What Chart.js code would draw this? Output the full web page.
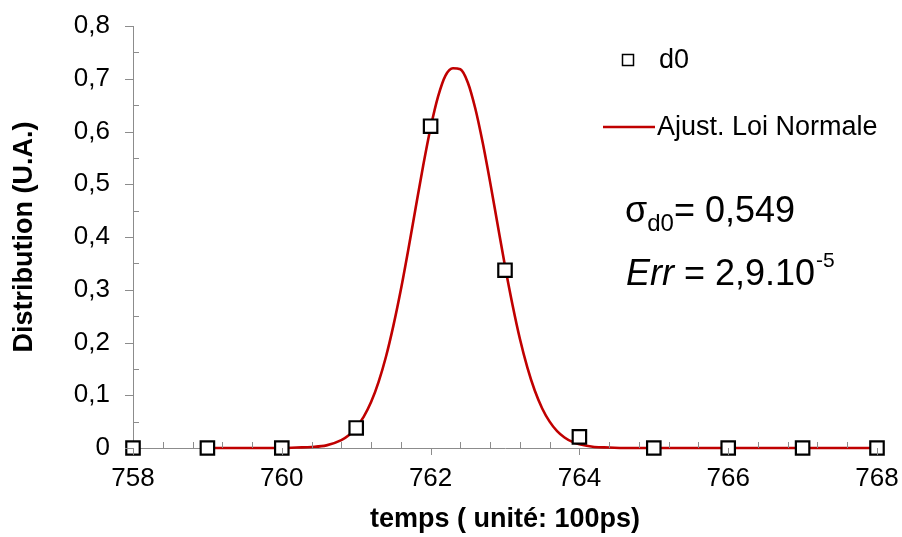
<!DOCTYPE html>
<html><head><meta charset="utf-8">
<script src="https://cdn.jsdelivr.net/npm/chart.js@4.4.1/dist/chart.umd.min.js"></script>
<style>html,body{margin:0;padding:0;background:#fff;}#wrap{width:902px;height:537px;position:relative;}</style>
</head><body><div id="wrap"><canvas id="c"></canvas></div>
<script>
// ---- data ----
const pointX = [758, 759, 760, 761, 762, 763, 764, 765, 766, 767, 768];
const pointY = [0, 0, 0, 0.038, 0.610, 0.337, 0.021, 0, 0, 0, 0];
const curveX = [759, 759.5, 760, 760.2, 760.4, 760.6, 760.8, 760.9, 761, 761.1, 761.2, 761.3, 761.4, 761.5, 761.6, 761.7, 761.8, 761.9, 762, 762.1, 762.2, 762.3, 762.4, 762.5, 762.6, 762.7, 762.8, 762.9, 763, 763.1, 763.2, 763.3, 763.4, 763.5, 763.6, 763.7, 763.8, 763.9, 764, 764.2, 764.4, 764.6, 765, 766, 767, 768];
const curveY = [0, 0, 0, 0.001, 0.002, 0.005, 0.015, 0.024, 0.039, 0.059, 0.087, 0.125, 0.173, 0.232, 0.300, 0.376, 0.456, 0.535, 0.607, 0.666, 0.706, 0.720, 0.718, 0.693, 0.644, 0.579, 0.504, 0.424, 0.345, 0.272, 0.207, 0.153, 0.109, 0.075, 0.050, 0.032, 0.020, 0.012, 0.007, 0.002, 0.001, 0, 0, 0, 0, 0];
const xTicks = [758, 760, 762, 764, 766, 768];
const xMinorTicks = [758.4, 758.8, 759.2, 759.6, 760.4, 760.8, 761.2, 761.6, 762.4, 762.8, 763.2, 763.6, 764.4, 764.8, 765.2, 765.6, 766.4, 766.8, 767.2, 767.6];
const yTicks = [0, 0.1, 0.2, 0.3, 0.4, 0.5, 0.6, 0.7, 0.8];
const yMinorTicks = [0.05, 0.15, 0.25, 0.35, 0.45, 0.55, 0.65, 0.75];
const seriesNames = ['d0', 'Ajust. Loi Normale'];
const xTitle = 'temps ( unité: 100ps)';
const yTitle = 'Distribution (U.A.)';
const sigmaLabel = ['σ', 'd0', '= 0,549'];
const errLabel = ['Err', ' = 2,9.10', '-5'];

const FONT = '"Liberation Sans", Arial, Helvetica, sans-serif';
const RED = '#C00000';
const AXIS = '#8c8c8c';

const tickPlugin = {
  id: 'tickMarks',
  afterDraw(chart) {
    const ctx = chart.ctx;
    const xs = chart.scales.x, ys = chart.scales.y;
    const x0 = xs.left, yb = ys.bottom;
    ctx.save();
    ctx.strokeStyle = AXIS;
    ctx.lineWidth = 1;
    ctx.beginPath();
    yTicks.forEach(v => { const p = Math.round(ys.getPixelForValue(v)) + 0.5; ctx.moveTo(x0 - 8, p); ctx.lineTo(x0, p); });
    yMinorTicks.forEach(v => { const p = Math.round(ys.getPixelForValue(v)) + 0.5; ctx.moveTo(x0, p); ctx.lineTo(x0 + 6, p); });
    xTicks.forEach(v => { const p = Math.round(xs.getPixelForValue(v)) + 0.5; ctx.moveTo(p, yb); ctx.lineTo(p, yb + 7); });
    xMinorTicks.forEach(v => { const p = Math.round(xs.getPixelForValue(v)) + 0.5; ctx.moveTo(p, yb - 6); ctx.lineTo(p, yb); });
    ctx.stroke();
    ctx.restore();
  }
};

const textPlugin = {
  id: 'legendText',
  afterDraw(chart) {
    const ctx = chart.ctx;
    ctx.save();
    ctx.textBaseline = 'middle';
    // legend: marker
    ctx.strokeStyle = '#000';
    ctx.lineWidth = 1.5;
    ctx.fillStyle = '#fff';
    ctx.fillRect(622.5, 54.5, 11, 11);
    ctx.strokeRect(622.5, 54.5, 11, 11);
    ctx.fillStyle = '#000';
    ctx.font = '27px ' + FONT;
    ctx.fillText(seriesNames[0], 659, 61);
    // legend: line
    ctx.strokeStyle = RED;
    ctx.lineWidth = 2.5;
    ctx.beginPath(); ctx.moveTo(603, 127); ctx.lineTo(655, 127); ctx.stroke();
    ctx.fillText(seriesNames[1], 657, 128);
    // sigma
    ctx.textBaseline = 'alphabetic';
    let x = 625;
    ctx.font = '36px ' + FONT;
    ctx.fillText(sigmaLabel[0], x, 222); x += ctx.measureText(sigmaLabel[0]).width;
    ctx.font = '24px ' + FONT;
    ctx.fillText(sigmaLabel[1], x, 231); x += ctx.measureText(sigmaLabel[1]).width;
    ctx.font = '36px ' + FONT;
    ctx.fillText(sigmaLabel[2], x, 222);
    // err
    x = 626;
    ctx.font = 'italic 36px ' + FONT;
    ctx.fillText(errLabel[0], x, 285); x += ctx.measureText(errLabel[0]).width;
    ctx.font = '36px ' + FONT;
    ctx.fillText(errLabel[1], x, 285); x += ctx.measureText(errLabel[1]).width;
    ctx.font = '21px ' + FONT;
    ctx.fillText(errLabel[2], x + 1, 267);
    ctx.restore();
  }
};

const fmtY = v => v === 0 ? '0' : v.toFixed(1).replace('.', ',');
const noPad = s => { s.paddingTop = 0; s.paddingBottom = 0; s.paddingLeft = 0; s.paddingRight = 0; };

new Chart(document.getElementById('c'), {
  type: 'scatter',
  data: {
    datasets: [
      {
        label: seriesNames[0],
        data: pointX.map((x, i) => ({ x, y: pointY[i] })),
        showLine: false,
        pointStyle: 'rect',
        pointRadius: 9.5,
        pointBorderWidth: 2.2,
        pointBorderColor: '#000',
        pointBackgroundColor: '#fff',
        order: 0,
        clip: false
      },
      {
        label: seriesNames[1],
        data: curveX.map((x, i) => ({ x, y: curveY[i] })),
        showLine: true,
        borderColor: RED,
        borderWidth: 2.6,
        pointRadius: 0,
        cubicInterpolationMode: 'monotone',
        order: 1,
        clip: false
      }
    ]
  },
  options: {
    responsive: true,
    maintainAspectRatio: false,
    animation: false,
    devicePixelRatio: 1,
    layout: { autoPadding: false, padding: { left: 0, right: 25, top: 26, bottom: 0 } },
    plugins: { legend: { display: false }, tooltip: { enabled: false } },
    scales: {
      x: {
        type: 'linear', min: 758, max: 768,
        afterBuildTicks: s => { s.ticks = xTicks.map(v => ({ value: v })); },
        afterFit: s => { s.height = 89; noPad(s); },
        ticks: { color: '#000', font: { family: FONT, size: 26 }, padding: 15, maxRotation: 0, autoSkip: false },
        grid: { display: false, drawTicks: false },
        border: { display: true, color: AXIS, width: 1 },
        title: { display: true, text: xTitle, color: '#000', font: { family: FONT, size: 27, weight: 'bold' }, padding: { top: 0, bottom: 1 } }
      },
      y: {
        min: 0, max: 0.8,
        afterBuildTicks: s => { s.ticks = yTicks.map(v => ({ value: v })); },
        afterFit: s => { s.width = 133; noPad(s); },
        ticks: { color: '#000', font: { family: FONT, size: 26 }, padding: 23, callback: fmtY },
        grid: { display: false, drawTicks: false },
        border: { display: true, color: AXIS, width: 1 },
        title: { display: true, text: yTitle, color: '#000', font: { family: FONT, size: 27, weight: 'bold' }, padding: { top: 8, bottom: 0 } }
      }
    }
  },
  plugins: [tickPlugin, textPlugin]
});
</script></body></html>
